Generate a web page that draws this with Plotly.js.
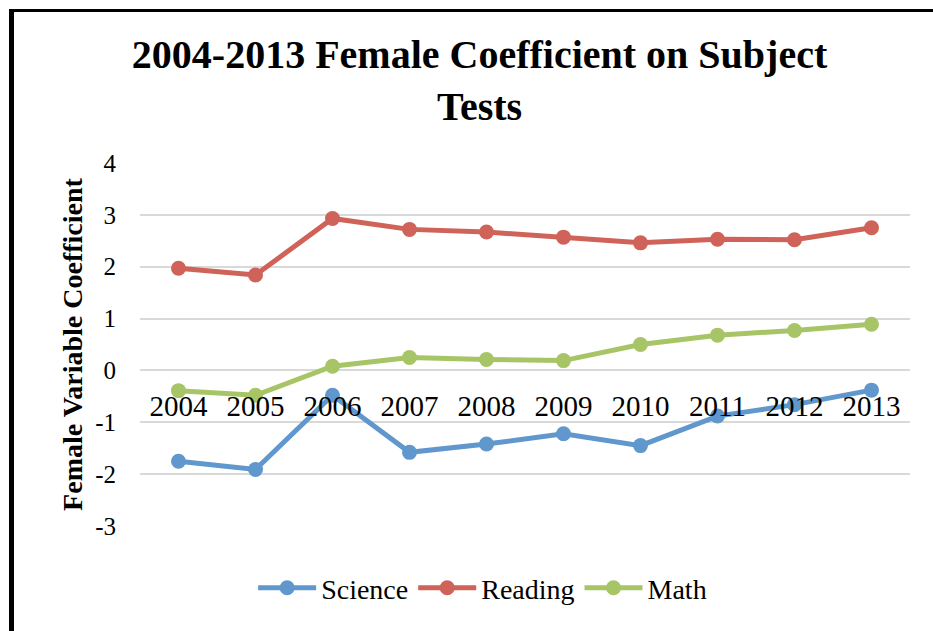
<!DOCTYPE html>
<html>
<head>
<meta charset="utf-8">
<script src="https://cdn.plot.ly/plotly-3.0.1.min.js"></script>
<style>
  html, body { margin: 0; padding: 0; background: #fff; }
  #chart { width: 933px; height: 631px; position: relative; }
  #frame { position: absolute; left: 9px; top: 9px; width: 940px; height: 640px;
           border-left: 5px solid #000; border-top: 3px solid #000; pointer-events: none; }
</style>
</head>
<body>
<div id="chart"></div>
<div id="frame"></div>
<script>
const years = ['2004','2005','2006','2007','2008','2009','2010','2011','2012','2013'];
const science = [-1.75, -1.91, -0.48, -1.58, -1.42, -1.22, -1.45, -0.88, -0.66, -0.38];
const reading = [1.97, 1.84, 2.93, 2.72, 2.67, 2.57, 2.46, 2.53, 2.52, 2.75];
const math    = [-0.39, -0.48, 0.08, 0.25, 0.21, 0.19, 0.50, 0.68, 0.77, 0.89];
const yTicks = [-3, -2, -1, 0, 1, 2, 3, 4];

const serif = 'Liberation Serif, Times New Roman, serif';
function series(name, y, color) {
  return {
    type: 'scatter', mode: 'lines+markers', name: name, x: years, y: y,
    line: { color: color, width: 5 },
    marker: { color: color, size: 15 }
  };
}
const data = [
  series('Science', science, '#6097CC'),
  series('Reading', reading, '#CF6259'),
  series('Math', math, '#A7C567')
];

const layout = {
  width: 933, height: 631,
  margin: { l: 140, r: 23, t: 163, b: 105 },
  paper_bgcolor: '#fff', plot_bgcolor: '#fff',
  font: { family: serif, color: '#000' },
  title: {
    text: '<b>2004-2013 Female Coefficient on Subject<br>Tests</b>',
    font: { family: serif, size: 40, color: '#000' },
    x: 0.514, xref: 'container', xanchor: 'center',
    y: 0.893, yref: 'container', yanchor: 'middle'
  },
  xaxis: {
    type: 'category', range: [-0.5, 9.5],
    anchor: 'free', position: 3 / 7,
    showgrid: false, zeroline: false, showline: false,
    ticks: 'outside', ticklen: 10, tickcolor: 'rgba(0,0,0,0)',
    tickfont: { family: serif, size: 29, color: '#000' }
  },
  yaxis: {
    range: [-3, 4], tickvals: yTicks, ticktext: yTicks.map(String),
    showgrid: true, gridcolor: '#D9D9D9', gridwidth: 2,
    zeroline: false, showline: false,
    ticks: 'outside', ticklen: 18, tickcolor: 'rgba(0,0,0,0)',
    tickfont: { family: serif, size: 25, color: '#000' },
    title: { text: '<b>Female Variable Coefficient</b>', standoff: 4,
             font: { family: serif, size: 28, color: '#000' } }
  },
  legend: {
    orientation: 'h', x: 0.445, xanchor: 'center', y: -0.171, yanchor: 'middle',
    font: { family: serif, size: 28, color: '#000' },
    itemwidth: 58, traceorder: 'normal'
  },
  showlegend: true
};

Plotly.newPlot('chart', data, layout, { displayModeBar: false, staticPlot: true });
</script>
</body>
</html>
